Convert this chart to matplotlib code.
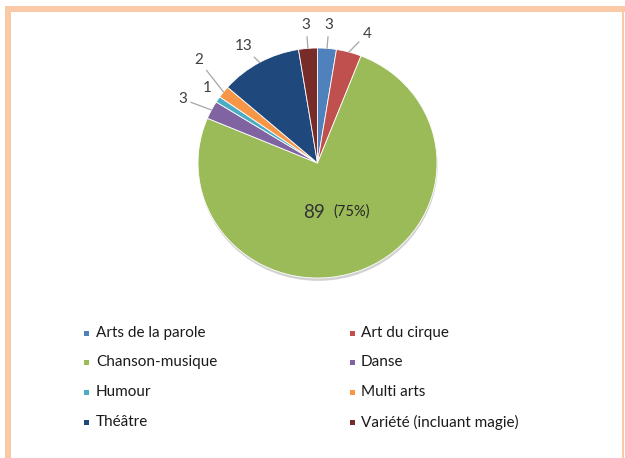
import numpy as np
import matplotlib
matplotlib.use("Agg")
import matplotlib.pyplot as plt
from matplotlib.patches import Rectangle, Ellipse

plt.rcParams['font.family'] = ['Lato', 'DejaVu Sans']

# données
categories = ["Arts de la parole", "Art du cirque", "Chanson-musique", "Danse",
              "Humour", "Multi arts", "Théâtre", "Variété (incluant magie)"]
values = [3, 4, 89, 3, 1, 2, 13, 3]
colors = ["#4F81BD", "#C0504D", "#9BBB59", "#8064A2",
          "#4BACC6", "#F79646", "#1F497D", "#772C2A"]

# placement des étiquettes (rayon, décalage angulaire en degrés, trait de rappel)
lab_r = [1.2, 1.2, None, 1.26, 1.13, 1.34, 1.19, 1.2]
lab_da = [0, -5, 0, 1.3, -1.9, -3.8, 2.5, 0]
leader = [True, True, False, True, False, True, True, True]

W, H = 625, 458
fig = plt.figure(figsize=(W / 100, H / 100), dpi=100)


def fx(px):
    return px / W


def fy(py):
    return 1 - py / H


# cadre orange
frame = "#FAC9A6"
fig.add_artist(Rectangle((fx(5), fy(12)), 1 - fx(5), 6 / H, color=frame, lw=0))
fig.add_artist(Rectangle((fx(5), 0), 6 / W, fy(6), color=frame, lw=0))
fig.add_artist(Rectangle((fx(622), 0), 2 / W, fy(6), color=frame, lw=0))

# camembert
ax = fig.add_axes([fx(198), fy(278), 239 / W, 230 / H])
# ombre légère sous le camembert
ax.add_patch(Ellipse((0.005, -0.025), 2.0, 2.0, color="#7F7F7F", alpha=0.35,
                     lw=0, zorder=0, clip_on=False))
wedges, _ = ax.pie(values, colors=colors, startangle=90, counterclock=False,
                   wedgeprops=dict(edgecolor="white", linewidth=0.6))
ax.set_aspect("auto")
ax.set_xlim(-1, 1)
ax.set_ylim(-1, 1)

total = sum(values)
for i, w in enumerate(wedges):
    mid = (w.theta1 + w.theta2) / 2
    if lab_r[i] is None:
        ax.text(0.063, -0.43, str(values[i]), ha="right", va="center",
                fontsize=13.5, color="#333333")
        ax.text(0.13, -0.42, "(%d%%)" % round(values[i] / total * 100),
                ha="left", va="center", fontsize=10.5, color="#262626")
        continue
    a = np.deg2rad(mid + lab_da[i])
    tx, ty = lab_r[i] * np.cos(a), lab_r[i] * np.sin(a)
    m = np.deg2rad(mid)
    px, py = np.cos(m), np.sin(m)
    if leader[i]:
        ax.annotate(str(values[i]), xy=(px, py), xytext=(tx, ty),
                    ha="center", va="center", fontsize=11, color="#404040",
                    annotation_clip=False,
                    arrowprops=dict(arrowstyle="-", color="#A6A6A6", lw=0.9,
                                    shrinkA=1, shrinkB=0))
    else:
        ax.text(tx, ty, str(values[i]), ha="center", va="center",
                fontsize=11, color="#404040")

# légende
rows_y = [333, 362, 392, 422]
col_x = [87, 352]
for i, cat in enumerate(categories):
    x = col_x[i % 2]
    y = rows_y[i // 2]
    fig.add_artist(Rectangle((fx(x - 2.5), fy(y + 2.5)), 5 / W, 5 / H,
                             color=colors[i], lw=0))
    fig.text(fx(x + 9), fy(y), cat, ha="left", va="center",
             fontsize=11, color="#1A1A1A")

fig.savefig("out.png", dpi=100)
